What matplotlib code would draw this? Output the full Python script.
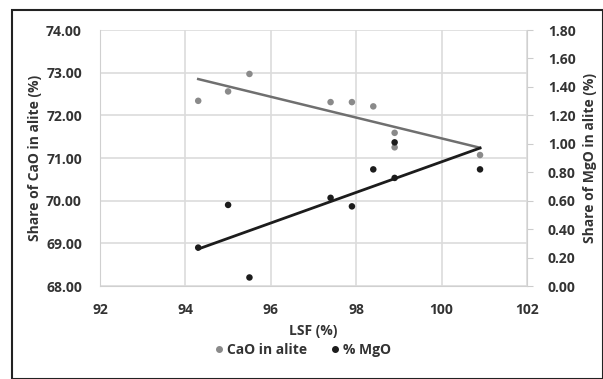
import matplotlib.pyplot as plt
from matplotlib.lines import Line2D
from matplotlib.patches import Rectangle

# LSF values (%) for the clinker samples
lsf = [94.3, 95.0, 95.5, 97.4, 97.9, 98.4, 98.9, 98.9, 100.9]
# CaO share in alite (%), left axis
cao = [72.34, 72.56, 72.97, 72.31, 72.31, 72.21, 71.59, 71.25, 71.07]
# MgO share in alite (%), right axis
mgo = [0.27, 0.57, 0.06, 0.62, 0.56, 0.82, 1.01, 0.76, 0.82]

# trend lines (endpoints)
trend_x = [94.3, 100.9]
trend_cao = [72.85, 71.24]
trend_mgo = [0.26, 0.97]

x_ticks = [92, 94, 96, 98, 100, 102]
left_ticks = [68, 69, 70, 71, 72, 73, 74]
right_ticks = [0.0, 0.2, 0.4, 0.6, 0.8, 1.0, 1.2, 1.4, 1.6, 1.8]

gray = "#8a8a8a"
dark = "#1c1c1c"
txt = "#333333"

plt.rcParams['font.family'] = ['Open Sans', 'DejaVu Sans']
plt.rcParams['font.weight'] = 'bold'
plt.rcParams['axes.labelweight'] = 'bold'

fig = plt.figure(figsize=(6.03, 3.79), dpi=100)
ax = fig.add_axes([100/603, 1-286/379, 427/603, 256/379])
ax2 = ax.twinx()

ax.set_xlim(92, 102)
ax.set_ylim(68, 74)
ax2.set_ylim(0, 1.8)

ax.set_xticks(x_ticks)
ax.set_yticks(left_ticks)
ax.set_yticklabels([f"{v:.2f}" for v in left_ticks])
ax2.set_yticks(right_ticks)
ax2.set_yticklabels([f"{v:.2f}" for v in right_ticks])

ax.grid(True, color="#dcdcdc", lw=1.2)
ax.set_axisbelow(True)
ax.tick_params(axis='both', length=0, labelsize=10, labelcolor=txt, pad=13)
ax.tick_params(axis='x', pad=12)
ax2.tick_params(axis='y', length=4, color="#cccccc", labelsize=10, labelcolor=txt, pad=11)

for a in (ax, ax2):
    for s in a.spines.values():
        s.set_visible(False)
ax.spines['left'].set_visible(True)
ax.spines['bottom'].set_visible(True)
ax2.spines['right'].set_visible(True)
ax.spines['left'].set_color("#d0d0d0")
ax.spines['bottom'].set_color("#d0d0d0")
ax2.spines['right'].set_color("#d0d0d0")

ax.plot(trend_x, trend_cao, color="#6f6f6f", lw=1.8, zorder=3)
ax.scatter(lsf, cao, s=22, color=gray, zorder=4, edgecolors='none')
ax2.plot(trend_x, trend_mgo, color=dark, lw=2.0, zorder=3)
ax2.scatter(lsf, mgo, s=22, color=dark, zorder=4, edgecolors='none')

ax.set_xlabel("LSF (%)", fontsize=10, color=txt, labelpad=5)
ax.set_ylabel("Share of CaO in alite (%)", fontsize=10, color=txt, labelpad=3)
ax2.set_ylabel("Share of MgO in alite (%)", fontsize=10, color=txt, labelpad=5)

handles = [Line2D([0], [0], marker='o', ls='', color=gray, markersize=4),
           Line2D([0], [0], marker='o', ls='', color=dark, markersize=4)]
fig.legend(handles, ["CaO in alite", "% MgO"], loc='center', bbox_to_anchor=(0.5, 1-350/379),
           ncol=2, frameon=False, fontsize=10, handletextpad=0.1, columnspacing=1.5,
           labelcolor=txt, handlelength=1.0)

fig.patches.append(Rectangle((12/603, 0), 591/603, 1-10/379, transform=fig.transFigure,
                             fill=False, edgecolor="#222222", lw=1.5))

fig.savefig("out.png", dpi=100)
